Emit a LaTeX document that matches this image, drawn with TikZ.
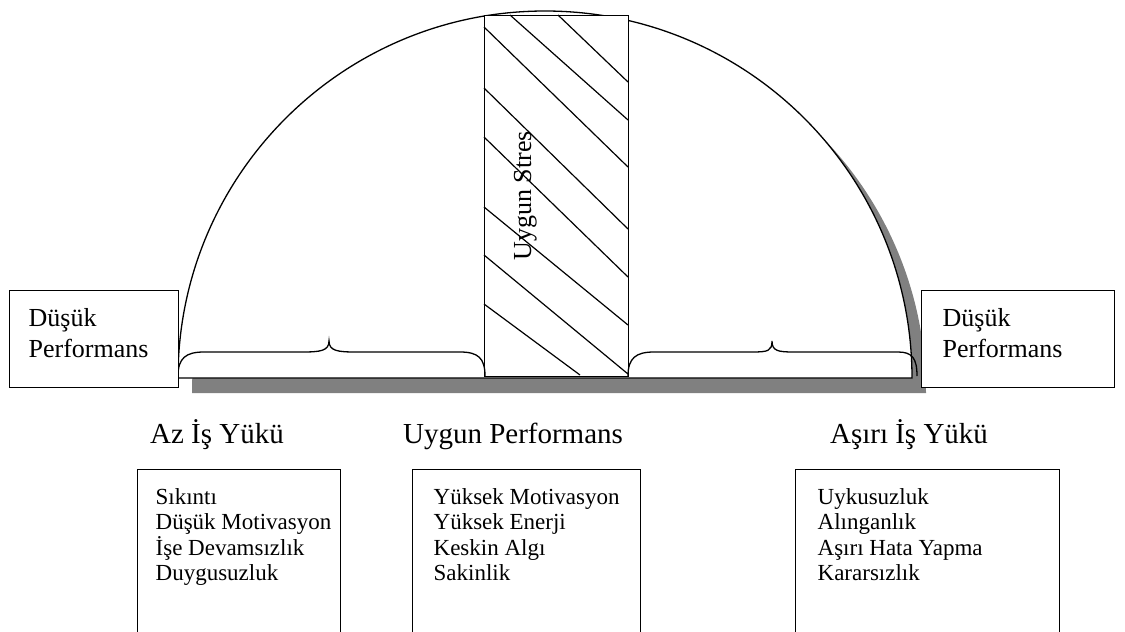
\documentclass[tikz,border=0pt]{standalone}
\usepackage{fontspec}
\setmainfont{Liberation Serif}
\definecolor{shadowgray}{RGB}{128,128,128}
\begin{document}
\begin{tikzpicture}[x=1pt,y=-1pt,line width=1.3pt,
  rectbox/.style={draw=black,fill=white,line width=1.3pt,inner sep=0pt,anchor=north west},
  sidetxt/.style={anchor=base west,inner sep=0pt,font=\fontsize{26}{30}\selectfont},
  titletxt/.style={anchor=base,inner sep=0pt,font=\fontsize{29}{33}\selectfont},
  listtxt/.style={anchor=base west,inner sep=0pt,font=\fontsize{23}{26}\selectfont},
  hatch/.style={line width=1.2pt}]
\clip (0,0) rectangle (1125,632);
\fill[white] (0,0) rectangle (1125,632);
% shadow and dome
\fill[shadowgray] (192,393) arc[start angle=180,end angle=360,radius=367] -- cycle;
\draw[fill=white] (178,378) arc[start angle=180,end angle=360,radius=367] -- cycle;
% central hatched bar
\node[rectbox,minimum width=144pt,minimum height=361pt] (stres) at (484,15) {};
\draw[hatch] (558,15) -- (628,82);
\draw[hatch] (510,15) -- (628,120);
\draw[hatch] (484,27) -- (628,167);
\draw[hatch] (484,88) -- (628,229);
\draw[hatch] (484,137) -- (628,277);
\draw[hatch] (484,207) -- (628,325);
\draw[hatch] (484,255) -- (628,374);
\draw[hatch] (484,304) -- (580,375);
\node[rotate=90,anchor=base west,inner sep=0pt,font=\fontsize{26}{30}\selectfont] (stxt) at (531,261) {Uygun Stres};
% braces
\draw (178,376) .. controls (178,358) and (186,352) .. (204,352) -- (302,352)
  .. controls (320,352) and (329,351) .. (329,341)
  .. controls (329,351) and (338,352) .. (356,352) -- (460,352)
  .. controls (478,352) and (485,358) .. (485,376);
\draw (628,376) .. controls (628,358) and (636,352) .. (654,352) -- (752,352)
  .. controls (768,352) and (772,351) .. (772,341)
  .. controls (772,351) and (778,352) .. (794,352) -- (898,352)
  .. controls (912,352) and (917,358) .. (917,376);
% side boxes
\node[rectbox,minimum width=169pt,minimum height=97pt] (lbox) at (9,290) {};
\node[sidetxt] (l1) at (28,326) {Düşük};
\node[sidetxt] (l2) at (28,357) {Performans};
\node[rectbox,minimum width=193pt,minimum height=97pt] (rbox) at (921,290) {};
\node[sidetxt] (r1) at (942,326) {Düşük};
\node[sidetxt] (r2) at (942,357) {Performans};
% titles
\node[titletxt] (t1) at (217,443) {Az İş Yükü};
\node[titletxt] (t2) at (513,443) {Uygun Performans};
\node[titletxt] (t3) at (909,443) {Aşırı İş Yükü};
% list boxes
\node[rectbox,minimum width=203pt,minimum height=200pt] (b1) at (137,469) {};
\node[rectbox,minimum width=228pt,minimum height=200pt] (b2) at (412,469) {};
\node[rectbox,minimum width=264pt,minimum height=200pt] (b3) at (795,469) {};
\node[listtxt] (a1) at (155,504) {Sıkıntı};
\node[listtxt] (a2) at (155,529.5) {Düşük Motivasyon};
\node[listtxt] (a3) at (155,555) {İşe Devamsızlık};
\node[listtxt] (a4) at (155,580.5) {Duygusuzluk};
\node[listtxt] (c1) at (433,504) {Yüksek Motivasyon};
\node[listtxt] (c2) at (433,529.5) {Yüksek Enerji};
\node[listtxt] (c3) at (433,555) {Keskin Algı};
\node[listtxt] (c4) at (433,580.5) {Sakinlik};
\node[listtxt] (d1) at (817,504) {Uykusuzluk};
\node[listtxt] (d2) at (817,529.5) {Alınganlık};
\node[listtxt] (d3) at (817,555) {Aşırı Hata Yapma};
\node[listtxt] (d4) at (817,580.5) {Kararsızlık};
\end{tikzpicture}
\end{document}
